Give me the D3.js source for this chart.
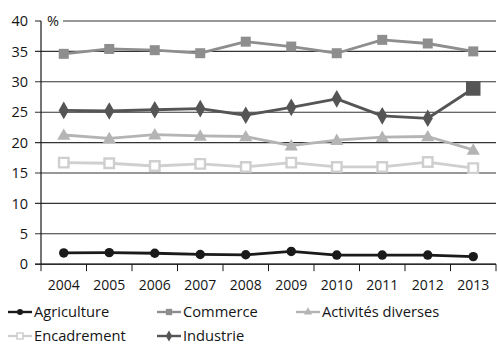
<!DOCTYPE html>
<html>
<head>
<meta charset="utf-8">
<script src="https://cdn.jsdelivr.net/npm/d3@7"></script>
<style>
  html, body { margin: 0; padding: 0; background: #fff; }
  svg text { font-family: "Open Sans", "Noto Sans", sans-serif; fill: #151515; }
</style>
</head>
<body>
<svg id="chart" width="498" height="345"></svg>
<script>
// Years on the horizontal axis
const years = ["2004", "2005", "2006", "2007", "2008", "2009", "2010", "2011", "2012", "2013"];
const yTicks = [0, 5, 10, 15, 20, 25, 30, 35, 40];

// Shares by sector (%)
const agriculture = [1.85, 1.9, 1.8, 1.6, 1.55, 2.1, 1.5, 1.5, 1.5, 1.25];
const commerce    = [34.6, 35.4, 35.2, 34.7, 36.6, 35.8, 34.7, 36.9, 36.3, 35.0];
const activites   = [21.25, 20.7, 21.3, 21.1, 21.0, 19.5, 20.4, 20.9, 21.0, 18.8];
const encadrement = [16.7, 16.6, 16.15, 16.5, 16.0, 16.7, 16.0, 16.0, 16.8, 15.8];
const industrie   = [25.3, 25.2, 25.4, 25.6, 24.5, 25.8, 27.2, 24.4, 24.0, 28.9];

const seriesNames = ["Agriculture", "Commerce", "Activités diverses", "Encadrement", "Industrie"];
const seriesValues = [agriculture, commerce, activites, encadrement, industrie];

const styles = {
  "Agriculture":        { color: "#1a1a1a", fill: "#1a1a1a", symbol: d3.symbolCircle,   size: 70 },
  "Commerce":           { color: "#8e8e8e", fill: "#8e8e8e", symbol: d3.symbolSquare,   size: 100 },
  "Activités diverses": { color: "#b4b4b4", fill: "#b4b4b4", symbol: d3.symbolTriangle, size: 75 },
  "Encadrement":        { color: "#cfcfcf", fill: "#ffffff", symbol: d3.symbolSquare,   size: 90, stroke: true },
  "Industrie":          { color: "#555555", fill: "#555555", symbol: d3.symbolDiamond,  size: 90 }
};

const svg = d3.select("#chart");
const plotLeft = 41, plotRight = 496, plotTop = 21, plotBottom = 264.2;

const x = d3.scaleBand().domain(years).range([plotLeft, plotRight]);
const y = d3.scaleLinear().domain([0, 40]).range([plotBottom, plotTop]);

// Horizontal gridlines with left tick
const grid = svg.append("g");
yTicks.forEach(t => {
  grid.append("line")
    .attr("x1", plotLeft - 6)
    .attr("x2", t === 40 ? plotLeft : plotRight)
    .attr("y1", y(t)).attr("y2", y(t))
    .attr("stroke", "#333").attr("stroke-width", 1.1);
  if (t === 40) {
    grid.append("line")
      .attr("x1", 63).attr("x2", plotRight)
      .attr("y1", y(t)).attr("y2", y(t))
      .attr("stroke", "#333").attr("stroke-width", 1.1);
  }
  svg.append("text")
    .attr("x", 28).attr("y", y(t)).attr("dy", "0.36em")
    .attr("text-anchor", "end").attr("font-size", 14.5)
    .text(t);
});

svg.append("text").attr("x", 47).attr("y", y(40)).attr("dy", "0.36em")
  .attr("font-size", 14.5).text("%");

// Vertical axis line
svg.append("line")
  .attr("x1", plotLeft).attr("x2", plotLeft).attr("y1", y(40)).attr("y2", plotBottom)
  .attr("stroke", "#1a1a1a").attr("stroke-width", 1.2);

// Horizontal axis with ticks at band edges
const xAxis = svg.append("g");
xAxis.append("line").attr("x1", plotLeft - 6).attr("x2", plotRight)
  .attr("y1", plotBottom).attr("y2", plotBottom).attr("stroke", "#1a1a1a").attr("stroke-width", 1.2);
years.forEach((yr, i) => {
  const x0 = x(yr);
  xAxis.append("line").attr("x1", x0).attr("x2", x0)
    .attr("y1", plotBottom).attr("y2", plotBottom + 7).attr("stroke", "#1a1a1a");
  if (i === years.length - 1) {
    const x1 = x0 + x.bandwidth();
    xAxis.append("line").attr("x1", x1).attr("x2", x1)
      .attr("y1", plotBottom).attr("y2", plotBottom + 7).attr("stroke", "#1a1a1a");
  }
  xAxis.append("text")
    .attr("x", x0 + x.bandwidth() / 2).attr("y", 285).attr("dy", "0.36em")
    .attr("text-anchor", "middle").attr("font-size", 14).text(yr);
});

// Series lines and markers
const cx = yr => x(yr) + x.bandwidth() / 2;
const line = d3.line().x(d => cx(d.year)).y(d => y(d.v));

seriesNames.forEach((name, si) => {
  const st = styles[name];
  const pts = years.map((yr, i) => ({ year: yr, v: seriesValues[si][i] }));
  const g = svg.append("g");
  g.append("path").datum(pts).attr("d", line)
    .attr("fill", "none").attr("stroke", st.color).attr("stroke-width", 2.8)
    .attr("stroke-linejoin", "round");
  pts.forEach((p, i) => {
    const isLastIndustrie = name === "Industrie" && i === pts.length - 1;
    const sym = isLastIndustrie ? d3.symbolSquare : st.symbol;
    const size = isLastIndustrie ? 210 : st.size;
    g.append("path")
      .attr("d", d3.symbol(sym, size)())
      .attr("transform", `translate(${cx(p.year)},${y(p.v) + (sym === d3.symbolTriangle ? 1 : 0)})`)
      .attr("fill", st.fill)
      .attr("stroke", st.stroke ? st.color : "none")
      .attr("stroke-width", st.stroke ? 2.4 : 0);
  });
});

// Legend
const legendPos = [
  { name: "Agriculture", x: 8, y: 312 },
  { name: "Commerce", x: 157, y: 312 },
  { name: "Activités diverses", x: 296, y: 312 },
  { name: "Encadrement", x: 8, y: 336 },
  { name: "Industrie", x: 157, y: 336 }
];
legendPos.forEach(l => {
  const st = styles[l.name];
  const g = svg.append("g").attr("transform", `translate(${l.x},${l.y})`);
  g.append("line").attr("x1", 0).attr("x2", 24).attr("y1", 0).attr("y2", 0)
    .attr("stroke", st.color).attr("stroke-width", 2.4);
  g.append("path").attr("d", d3.symbol(st.symbol, st.size * 0.4)())
    .attr("transform", "translate(12,0)")
    .attr("fill", st.fill)
    .attr("stroke", st.stroke ? st.color : "none")
    .attr("stroke-width", st.stroke ? 1.6 : 0);
  g.append("text").attr("x", 26).attr("y", 0).attr("dy", "0.36em")
    .attr("font-size", 14.7).text(l.name);
});
</script>
</body>
</html>
